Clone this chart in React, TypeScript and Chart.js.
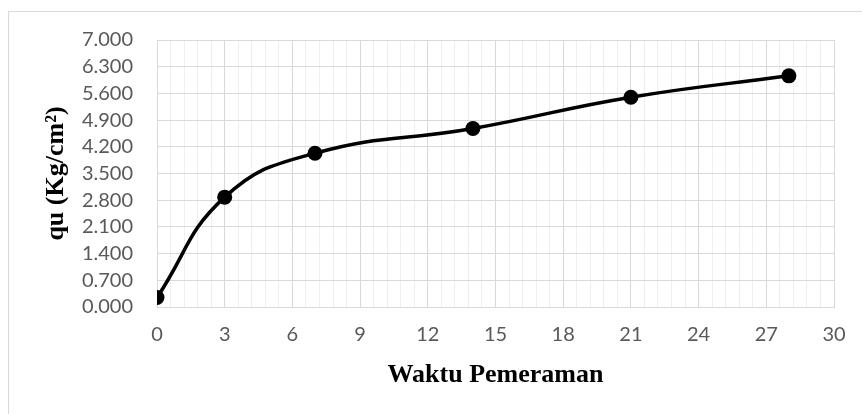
import React, { useEffect, useRef } from "react";
import { Chart, registerables } from "chart.js";

Chart.register(...registerables);

const days = [0, 3, 7, 14, 21, 28];
const quValues = [0.25, 2.88, 4.03, 4.68, 5.5, 6.06];
const xTitle = "Waktu Pemeraman";
const yTitle = "qu (Kg/cm²)";

const isMajor = (v: number) => Math.abs(v / 3 - Math.round(v / 3)) < 1e-6;

export default function App() {
  const ref = useRef<HTMLCanvasElement | null>(null);

  useEffect(() => {
    if (!ref.current) return;
    const chart = new Chart(ref.current, {
      type: "line",
      data: {
        datasets: [
          {
            data: days.map((d, i) => ({ x: d, y: quValues[i] })),
            borderColor: "#000000",
            backgroundColor: "#000000",
            borderWidth: 3.5,
            pointRadius: 7.5,
            pointBackgroundColor: "#000000",
            pointBorderColor: "#000000",
            pointBorderWidth: 0,
            tension: 0.45,
            fill: false,
          },
        ],
      },
      options: {
        animation: false,
        responsive: false,
        maintainAspectRatio: false,
        layout: { padding: { left: 0, top: 40, right: 28, bottom: 0 } },
        plugins: { legend: { display: false }, tooltip: { enabled: false } },
        scales: {
          x: {
            type: "linear",
            min: 0,
            max: 30,
            afterFit: (s: any) => {
              s.height = 107;
            },
            ticks: {
              stepSize: 0.6,
              autoSkip: false,
              maxRotation: 0,
              minRotation: 0,
              padding: 16,
              color: "#595959",
              font: { family: "Lato", size: 20 },
              callback: (v: any) => (isMajor(Number(v)) ? String(Math.round(Number(v))) : ""),
            },
            grid: {
              drawTicks: false,
              color: (ctx: any) => (ctx.tick && isMajor(ctx.tick.value) ? "#d9d9d9" : "#efefef"),
              lineWidth: 1,
            },
            border: { display: true, color: "#d9d9d9" },
            title: {
              display: true,
              text: xTitle,
              color: "#000000",
              font: { family: "Liberation Serif", size: 26, weight: "bold" },
              padding: { top: 0, bottom: 23 },
            },
          },
          y: {
            type: "linear",
            min: 0,
            max: 7,
            afterFit: (s: any) => {
              s.width = 157;
            },
            ticks: {
              stepSize: 0.7,
              autoSkip: false,
              padding: 24,
              color: "#595959",
              font: { family: "Lato", size: 20 },
              callback: (v: any) => Number(v).toFixed(3),
            },
            grid: { drawTicks: false, color: "#d9d9d9", lineWidth: 1 },
            border: { display: true, color: "#d9d9d9" },
            title: {
              display: true,
              text: yTitle,
              color: "#000000",
              font: { family: "Liberation Serif", size: 26, weight: "bold" },
              padding: { top: 41, bottom: 0 },
            },
          },
        },
      },
    });
    return () => chart.destroy();
  }, []);

  return (
    <div style={{ position: "absolute", left: 0, top: 0, width: 862, height: 414, background: "#ffffff" }}>
      <div
        style={{
          position: "absolute",
          left: 8,
          top: 11,
          width: 854,
          height: 403,
          borderLeft: "1px solid #d9d9d9",
          borderTop: "1px solid #d9d9d9",
          boxSizing: "border-box",
        }}
      />
      <canvas ref={ref} width={862} height={414} style={{ position: "absolute", left: 0, top: 0, width: 862, height: 414 }} />
    </div>
  );
}
